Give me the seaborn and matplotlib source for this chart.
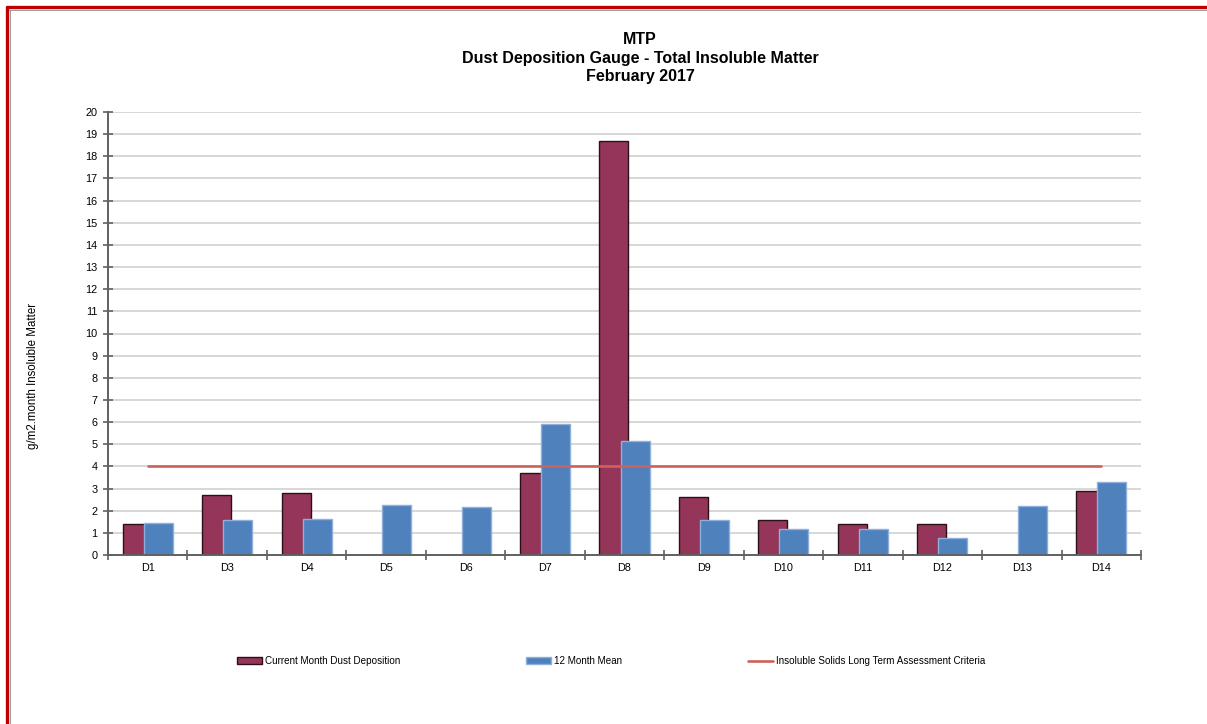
import numpy as np
import pandas as pd
import matplotlib
matplotlib.use("Agg")
import matplotlib.pyplot as plt
import seaborn as sns
from matplotlib.lines import Line2D
from matplotlib.patches import Patch

# Dust deposition gauges and monthly results (g/m2.month)
gauges = ["D1", "D3", "D4", "D5", "D6", "D7", "D8", "D9", "D10", "D11", "D12", "D13", "D14"]
current_month = [1.4, 2.7, 2.8, np.nan, np.nan, 3.7, 18.7, 2.6, 1.6, 1.4, 1.4, np.nan, 2.9]
twelve_month_mean = [1.45, 1.6, 1.63, 2.25, 2.15, 5.9, 5.15, 1.58, 1.16, 1.16, 0.77, 2.23, 3.31]
criteria_level = 4.0

series_names = ["Current Month Dust Deposition", "12 Month Mean"]
criteria_name = "Insoluble Solids Long Term Assessment Criteria"

maroon = "#953559"
blue = "#4f81bd"
criteria_color = "#d0605c"

sns.set_style("white")
plt.rcParams["font.family"] = ["Liberation Sans", "DejaVu Sans"]
plt.rcParams["text.color"] = "black"
plt.rcParams["xtick.labelcolor"] = "black"
plt.rcParams["ytick.labelcolor"] = "black"

df = pd.DataFrame({
    "gauge": gauges * 2,
    "value": current_month + twelve_month_mean,
    "series": [series_names[0]] * len(gauges) + [series_names[1]] * len(gauges),
})

fig = plt.figure(figsize=(12.07, 7.24), dpi=100)
ax = fig.add_axes([108 / 1207, 1 - 555 / 724, (1141 - 108) / 1207, (555 - 112) / 724])

sns.barplot(data=df, x="gauge", y="value", hue="series", order=gauges,
            hue_order=series_names, palette=[maroon, blue], width=0.73,
            dodge=True, gap=0, saturation=1, legend=False, ax=ax, zorder=2)

# pull the two series together so the mean bar overlaps the monthly bar
shift = 0.05
for container, dx, ec in zip(ax.containers, (shift, -shift), ("#2b1019", "#8fb0dc")):
    for bar in container.patches:
        bar.set_x(bar.get_x() + dx)
        bar.set_edgecolor(ec)
        bar.set_linewidth(1.0)

# long term assessment criteria line
pos = np.arange(len(gauges))
sns.lineplot(x=pos, y=np.full(len(gauges), criteria_level), color=criteria_color,
             linewidth=1.9, ax=ax, zorder=4)

ax.set_xlim(-0.5, len(gauges) - 0.5)
ax.set_ylim(0, 20)
ax.set_yticks(np.arange(0, 21, 1))
ax.set_xticks(pos)
ax.set_xticklabels(gauges)
ax.set_xticks(np.arange(-0.5, len(gauges), 1), minor=True)
ax.set_xlabel("")
ax.set_ylabel("")

ax.yaxis.grid(True, color="#d4d4d4", linewidth=1.3, zorder=0)
ax.xaxis.grid(False)
ax.set_axisbelow(True)

for side in ("top", "right"):
    ax.spines[side].set_visible(False)
for side in ("left", "bottom"):
    ax.spines[side].set_color("#606060")
    ax.spines[side].set_linewidth(1.4)

ax.tick_params(axis="y", which="major", direction="inout", length=7, width=1.2,
               color="#606060", labelsize=7.8, pad=4, left=True, labelcolor="black")
ax.tick_params(axis="x", which="major", length=0, labelsize=7.8, pad=6, labelcolor="black")
ax.tick_params(axis="x", which="minor", direction="inout", length=7, width=1.2,
               color="#606060", bottom=True)

# titles
title_x = 640 / 1207
for text, y in zip(["MTP", "Dust Deposition Gauge - Total Insoluble Matter", "February 2017"],
                   [39, 58, 76]):
    fig.text(title_x, 1 - y / 724, text, ha="center", va="center",
             fontsize=11.5, fontweight="bold", color="black")

fig.text(33 / 1207, 1 - 376 / 724, "g/m2.month Insoluble Matter", rotation=90,
         ha="center", va="center", fontsize=8.3, color="black")

handles = [
    Patch(facecolor=maroon, edgecolor="#2b1019", linewidth=1.0),
    Patch(facecolor=blue, edgecolor="#8fb0dc", linewidth=1.0),
    Line2D([0], [0], color=criteria_color, linewidth=1.9),
]
fig.legend(handles, series_names + [criteria_name], loc="center",
           bbox_to_anchor=(611 / 1207, 1 - 661 / 724), ncol=3, frameon=False,
           fontsize=7.1, handlelength=2.5, handleheight=0.6, handletextpad=0.3,
           columnspacing=12.8, labelcolor="black")

# page frame along the top and left edges
fig.add_artist(Line2D([7 / 1207, 1], [1 - 7 / 724, 1 - 7 / 724], color="#c00000",
                      linewidth=2.4, transform=fig.transFigure))
fig.add_artist(Line2D([7 / 1207, 1], [1 - 9.5 / 724, 1 - 9.5 / 724], color="#a0a0a0",
                      linewidth=0.8, transform=fig.transFigure))
fig.add_artist(Line2D([7 / 1207, 7 / 1207], [0, 1 - 7 / 724], color="#c00000",
                      linewidth=2.4, transform=fig.transFigure))
fig.add_artist(Line2D([9.5 / 1207, 9.5 / 1207], [0, 1 - 9.5 / 724], color="#a0a0a0",
                      linewidth=0.8, transform=fig.transFigure))

fig.savefig("out.png", dpi=100, facecolor="white")
